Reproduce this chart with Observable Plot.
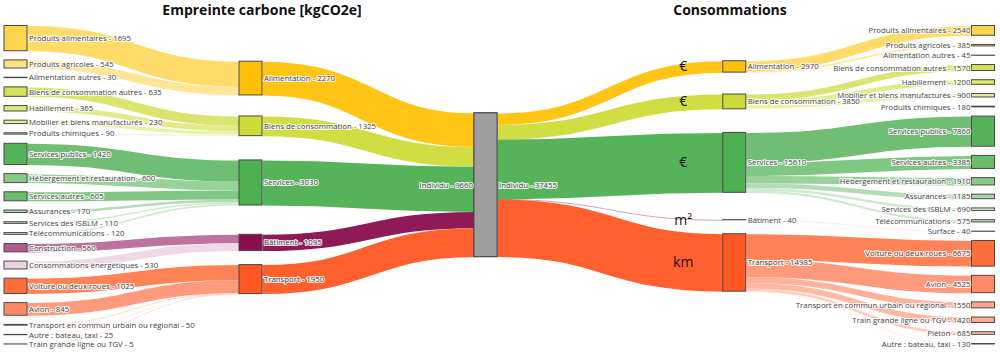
<!DOCTYPE html>
<html><head><meta charset="utf-8">
<script src="https://cdn.jsdelivr.net/npm/d3@7"></script>
<script src="https://cdn.jsdelivr.net/npm/@observablehq/plot@0.6"></script>
<style>
body{margin:0;background:#fff;}
#wrap{position:relative;width:1000px;height:353px;overflow:hidden;font-family:"Open Sans",sans-serif;}
.title{position:absolute;top:0;font-weight:700;font-size:14px;line-height:normal;color:#111;white-space:nowrap;transform:translateX(-50%);}
#chart{position:absolute;left:0;top:0;}
</style></head><body>
<div id="wrap"><div id="chart"></div><div class="title" id="t1"></div><div class="title" id="t2"></div></div>
<script>
// ---------------- DATA ----------------
const carbonTitle = "Empreinte carbone [kgCO2e]";
const consoTitle = "Consommations";
const centerLabel = "Individu";
const carbonTotal = 9660;
const consoTotal = 37455;
const categories = ["Alimentation", "Biens de consommation", "Services", "Bâtiment", "Transport"];
const carbonCategoryValues = [2270, 1325, 3030, 1095, 1950];
const consoCategoryValues = [2970, 3850, 15610, 40, 14985];
const consoUnits = ["€", "€", "€", "m²", "km"];

const carbonItems = ["Produits alimentaires", "Produits agricoles", "Alimentation autres",
  "Biens de consommation autres", "Habillement", "Mobilier et biens manufacturés", "Produits chimiques",
  "Services publics", "Hébergement et restauration", "Services autres", "Assurances", "Services des ISBLM", "Télécommunications",
  "Construction", "Consommations énergétiques",
  "Voiture ou deux roues", "Avion", "Transport en commun urbain ou régional", "Autre : bateau, taxi", "Train grande ligne ou TGV"];
const carbonItemValues = [1695, 545, 30, 635, 365, 230, 90, 1420, 600, 605, 170, 110, 120, 560, 530, 1025, 845, 50, 25, 5];
const carbonItemCategory = [0, 0, 0, 1, 1, 1, 1, 2, 2, 2, 2, 2, 2, 3, 3, 4, 4, 4, 4, 4];

const consoItems = ["Produits alimentaires", "Produits agricoles", "Alimentation autres",
  "Biens de consommation autres", "Habillement", "Mobilier et biens manufacturés", "Produits chimiques",
  "Services publics", "Services autres", "Hébergement et restauration", "Assurances", "Services des ISBLM", "Télécommunications",
  "Surface",
  "Voiture ou deux roues", "Avion", "Transport en commun urbain ou régional", "Train grande ligne ou TGV", "Piéton", "Autre : bateau, taxi"];
const consoItemValues = [2540, 385, 45, 1570, 1200, 900, 180, 7860, 3385, 1910, 1185, 690, 575, 40, 6675, 4525, 1550, 1420, 685, 130];
const consoItemCategory = [0, 0, 0, 1, 1, 1, 1, 2, 2, 2, 2, 2, 2, 3, 4, 4, 4, 4, 4, 4];

// ---------------- STYLE ----------------
const FONT = "'Open Sans', sans-serif";
const centerColor = "#9E9E9E";
const categoryColors = {"Alimentation": "#FFC107", "Biens de consommation": "#CDDC39", "Services": "#4CAF50", "Bâtiment": "#880E4F", "Transport": "#FF5722"};
const itemColors = {
  "Produits alimentaires": "#FFD54F", "Produits agricoles": "#FFE082", "Alimentation autres": "#FFECB3",
  "Biens de consommation autres": "#D4E157", "Habillement": "#DCE775", "Mobilier et biens manufacturés": "#E6EE9C", "Produits chimiques": "#F0F4C3",
  "Services publics": "#57B35A", "Hébergement et restauration": "#86C988", "Services autres": "#69BD6C", "Assurances": "#A5D6A7",
  "Services des ISBLM": "#C8E6C9", "Télécommunications": "#C8E6C9",
  "Construction": "#B15A8D", "Consommations énergétiques": "#EBD3E1", "Surface": "#F3C6DA",
  "Voiture ou deux roues": "#FF6D3A", "Avion": "#FF8A65", "Transport en commun urbain ou régional": "#FFA487",
  "Autre : bateau, taxi": "#FFCCBC", "Train grande ligne ou TGV": "#FFAB91", "Piéton": "#FFC2AE"
};

// ---------------- SANKEY LAYOUT ----------------
function sankeyLayout(nodes, links, {x0, x1, y0, y1, nodeWidth, padding}) {
  for (const n of nodes) { n.sourceLinks = []; n.targetLinks = []; }
  for (const l of links) {
    l.source = nodes[l.source]; l.target = nodes[l.target];
    l.source.sourceLinks.push(l); l.target.targetLinks.push(l);
  }
  for (const n of nodes) n.value = Math.max(d3.sum(n.sourceLinks, l => l.value), d3.sum(n.targetLinks, l => l.value));
  const nLayers = d3.max(nodes, n => n.layer) + 1;
  const columns = d3.range(nLayers).map(i => nodes.filter(n => n.layer === i));
  const kx = (x1 - x0 - nodeWidth) / (nLayers - 1);
  for (const n of nodes) { n.x0 = x0 + n.layer * kx; n.x1 = n.x0 + nodeWidth; }
  const ky = d3.min(columns, c => (y1 - y0 - (c.length - 1) * padding) / d3.sum(c, n => n.value));
  for (const l of links) l.width = l.value * ky;
  // initial breadths: stack, then spread the leftover space evenly
  for (const c of columns) {
    let y = y0;
    for (const n of c) { n.y0 = y; n.y1 = y + n.value * ky; y = n.y1 + padding; }
    const extra = (y1 - y + padding) / (c.length + 1);
    c.forEach((n, i) => { n.y0 += extra * (i + 1); n.y1 += extra * (i + 1); });
  }
  const targetTop = (s, t) => {
    let y = s.y0 - (s.sourceLinks.length - 1) * padding / 2;
    for (const l of s.sourceLinks) { if (l.target === t) break; y += l.width + padding; }
    for (const l of t.targetLinks) { if (l.source === s) break; y -= l.width; }
    return y;
  };
  const sourceTop = (s, t) => {
    let y = t.y0 - (t.targetLinks.length - 1) * padding / 2;
    for (const l of t.targetLinks) { if (l.source === s) break; y += l.width + padding; }
    for (const l of s.sourceLinks) { if (l.target === t) break; y -= l.width; }
    return y;
  };
  // inner columns: balance between ideal position seen from the left and from the right
  for (let i = 1; i < nLayers - 1; ++i) {
    const c = columns[i];
    for (const n of c) {
      const fromLeft = d3.sum(n.targetLinks, l => targetTop(l.source, n) * l.value) / d3.sum(n.targetLinks, l => l.value);
      const fromRight = d3.sum(n.sourceLinks, l => sourceTop(n, l.target) * l.value) / d3.sum(n.sourceLinks, l => l.value);
      const h = n.y1 - n.y0;
      n.y0 = (fromLeft + fromRight) / 2; n.y1 = n.y0 + h;
    }
    // resolve collisions
    let y = y0;
    for (const n of c) { const dy = y - n.y0; if (dy > 0) { n.y0 += dy; n.y1 += dy; } y = n.y1 + padding; }
    y = y1;
    for (let k = c.length - 1; k >= 0; --k) { const n = c[k]; const dy = n.y1 - y; if (dy > 0) { n.y0 -= dy; n.y1 -= dy; } y = n.y0 - padding; }
  }
  // link breadths
  for (const n of nodes) {
    let ys = n.y0, yt = n.y0;
    for (const l of n.sourceLinks) { l.y0 = ys + l.width / 2; ys += l.width; }
    for (const l of n.targetLinks) { l.y1 = yt + l.width / 2; yt += l.width; }
  }
  for (const n of nodes) n.labelLeft = n.layer === nLayers - 1;
  return {nodes, links};
}

const EXTENT = {y0: 25.5, y1: 344, nodeWidth: 23, padding: 9.2};

// Left sankey: items -> categories -> Individu
function buildCarbon() {
  const nodes = [], links = [];
  carbonItems.forEach((name, i) => nodes.push({name, display: carbonItemValues[i], layer: 0, color: itemColors[name]}));
  const c0 = nodes.length;
  categories.forEach((name, j) => nodes.push({name, display: carbonCategoryValues[j], layer: 1, color: categoryColors[name]}));
  const center = nodes.length;
  nodes.push({name: centerLabel, display: carbonTotal, layer: 2, color: centerColor});
  carbonItems.forEach((name, i) => links.push({source: i, target: c0 + carbonItemCategory[i], value: carbonItemValues[i], color: itemColors[name], kind: "item"}));
  categories.forEach((name, j) => links.push({source: c0 + j, target: center, value: carbonCategoryValues[j], color: categoryColors[name], kind: "cat"}));
  return sankeyLayout(nodes, links, {x0: 4, x1: 497, ...EXTENT});
}
// Right sankey: Individu -> categories -> items
function buildConso() {
  const nodes = [], links = [];
  nodes.push({name: centerLabel, display: consoTotal, layer: 0, color: centerColor});
  categories.forEach((name, j) => nodes.push({name, display: consoCategoryValues[j], layer: 1, color: categoryColors[name], unit: consoUnits[j]}));
  const i0 = nodes.length;
  consoItems.forEach((name, i) => nodes.push({name, display: consoItemValues[i], layer: 2, color: itemColors[name]}));
  categories.forEach((name, j) => links.push({source: 0, target: 1 + j, value: consoCategoryValues[j], color: categoryColors[name], kind: "cat"}));
  consoItems.forEach((name, i) => links.push({source: 1 + consoItemCategory[i], target: i0 + i, value: consoItemValues[i], color: itemColors[name], kind: "item"}));
  return sankeyLayout(nodes, links, {x0: 474, x1: 994.5, ...EXTENT});
}

const left = buildCarbon();
const right = buildConso();
const allNodes = [...left.nodes, ...right.nodes];
const allLinks = [...left.links, ...right.links];
const unitRows = right.nodes.filter(n => n.unit).map(n => ({unit: n.unit, x: n.x0 - 40, y: n.targetLinks[0].y1}));

const linkOpts = (kind, op) => ({
  filter: d => d.kind === kind,
  x1: d => d.source.x1, y1: d => d.y0, x2: d => d.target.x0, y2: d => d.y1,
  stroke: d => d.color, strokeOpacity: d => d.width < 1 ? 0.55 : op,
  strokeWidth: d => Math.max(0.7, d.width), curve: "bump-x"
});
const labelOpts = (isLeft) => ({
  filter: d => d.labelLeft === isLeft,
  x: d => isLeft ? d.x0 - 1.5 : d.x1 + 1.5, y: d => (d.y0 + d.y1) / 2,
  text: d => `${d.name} - ${d.display}`,
  textAnchor: isLeft ? "end" : "start",
  fontSize: 7.8, fontFamily: FONT, fill: "#444",
  stroke: "white", strokeWidth: 2.2, strokeOpacity: 0.85, paintOrder: "stroke"
});

const chart = Plot.plot({
  width: 1000, height: 353, margin: 0,
  x: {domain: [0, 1000], range: [0, 1000], axis: null},
  y: {domain: [0, 353], range: [0, 353], axis: null},
  color: {type: "identity"},
  opacity: {type: "identity"},
  style: {fontFamily: FONT, background: "white"},
  marks: [
    Plot.link(allLinks, linkOpts("item", 0.85)),
    Plot.link(allLinks, linkOpts("cat", 0.95)),
    Plot.rect(allNodes, {x1: d => d.x0, x2: d => d.x1, y1: d => d.y0, y2: d => d.y1, fill: d => d.color, stroke: "#4a4a4a", strokeWidth: 1}),
    Plot.text(allNodes, labelOpts(false)),
    Plot.text(allNodes, labelOpts(true)),
    Plot.text(unitRows, {x: "x", y: "y", text: "unit", fontSize: 14, fontFamily: FONT, fill: "#111"})
  ]
});
document.getElementById("chart").appendChild(chart);
const t1 = document.getElementById("t1"), t2 = document.getElementById("t2");
t1.textContent = carbonTitle; t1.style.left = "262px";
t2.textContent = consoTitle; t2.style.left = "730px";
</script>
</body></html>
